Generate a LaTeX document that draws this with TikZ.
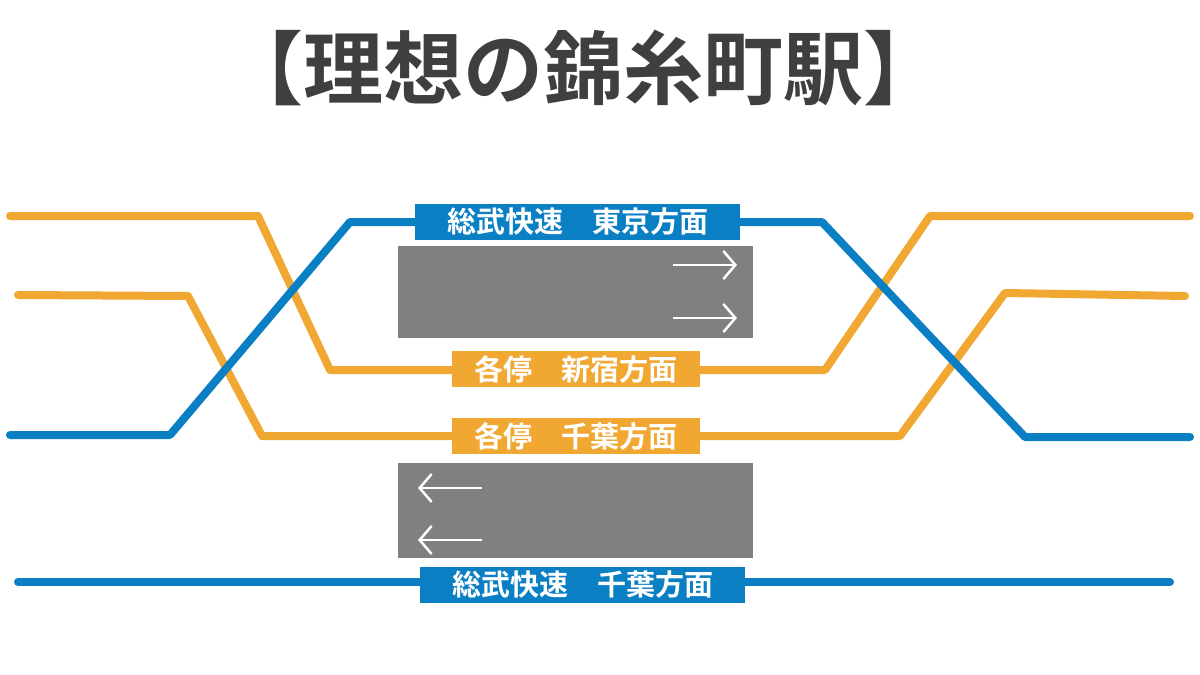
\documentclass[tikz,border=0pt]{standalone}
\usepackage{fontspec}
\newfontfamily\cjk{Noto Sans CJK JP}[BoldFont={* Bold}]
\usetikzlibrary{arrows.meta}
\definecolor{kaku}{HTML}{F0A832}
\definecolor{soubu}{HTML}{0A7FC4}
\definecolor{hoom}{HTML}{808080}
\definecolor{titl}{HTML}{3F3F3F}
\tikzset{
  track/.style={line width=8pt, line cap=round, line join=round},
  sign/.style={fill=#1, text=white, font=\cjk\bfseries\fontsize{29}{29}\selectfont,
    inner sep=0pt, minimum height=36pt, anchor=west},
  yajirusi/.style={white, line width=2.5pt, -{Straight Barb[length=12pt,width=28pt]}}
}
\begin{document}
\begin{tikzpicture}[x=1pt,y=-1pt]
    \useasboundingbox (0,0) rectangle (1200,675);

    \node[font=\cjk\bfseries\fontsize{80}{80}\selectfont, text=titl] (title) at (583,68) {【理想の錦糸町駅】};

    % tracks
    \draw[track, kaku] (10,216) -- (258,216) -- (330,370) -- (825,370) -- (930,216) -- (1190,216);
    \draw[track, kaku] (18,295) -- (188,296) -- (262,436) -- (900,436) -- (1005,293) -- (1185,296);
    \draw[track, soubu] (10,435) -- (170,435) -- (350,222) -- (822,222) -- (1025,437) -- (1190,437);
    \draw[track, soubu] (18,582) -- (1170,582);

    % platforms
    \fill[hoom] (398,246) rectangle (753,338);
    \fill[hoom] (398,463) rectangle (753,558);
    \coordinate (p1a) at (673,265); \coordinate (p1b) at (737,265);
    \coordinate (p2a) at (673,318); \coordinate (p2b) at (737,318);
    \coordinate (p3a) at (482,488); \coordinate (p3b) at (418,488);
    \coordinate (p4a) at (482,540); \coordinate (p4b) at (418,540);
    \draw[yajirusi] (p1a) -- (p1b);
    \draw[yajirusi] (p2a) -- (p2b);
    \draw[yajirusi] (p3a) -- (p3b);
    \draw[yajirusi] (p4a) -- (p4b);

    % signs
    \node[sign=soubu, minimum width=325pt] (tokyo) at (415,222) {総武快速　東京方面};
    \node[sign=kaku, minimum width=248pt] (sinjuku) at (452,369) {各停　新宿方面};
    \node[sign=kaku, minimum width=248pt] (chibaK) at (452,436) {各停　千葉方面};
    \node[sign=soubu, minimum width=325pt] (chibaS) at (420,585) {総武快速　千葉方面};
\end{tikzpicture}
\end{document}
